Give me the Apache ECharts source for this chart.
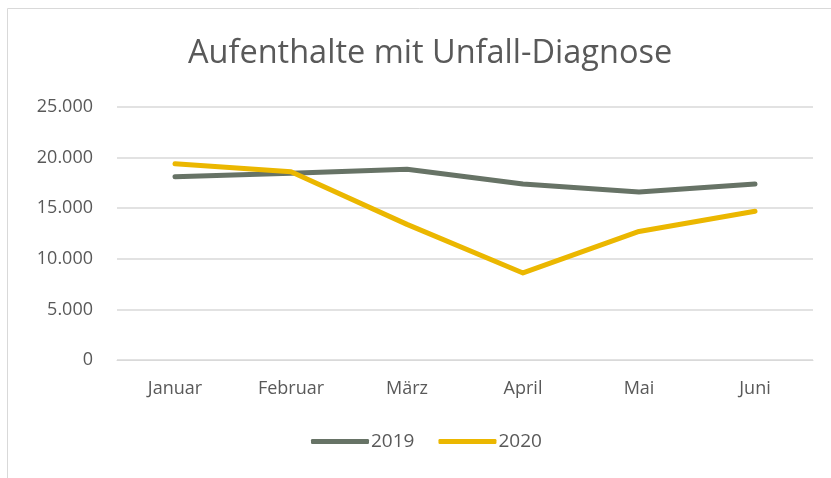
<!DOCTYPE html>
<html><head><meta charset="utf-8">
<script src="https://cdn.jsdelivr.net/npm/echarts@6/dist/echarts.min.js"></script>
<style>html,body{margin:0;padding:0;background:#fff}#c{width:831px;height:478px}</style>
</head><body><div id="c"></div>
<script>
const categories = ['Januar','Februar','März','April','Mai','Juni'];
const values2019 = [18100, 18450, 18850, 17400, 16600, 17400];
const values2020 = [19400, 18600, 13400, 8600, 12700, 14700];
const seriesNames = ['2019','2020'];
const yTicks = {min:0, max:25000, interval:5000};

const chart = echarts.init(document.getElementById('c'));
const fmt = v => v === 0 ? '0' : String(v).replace(/\B(?=(\d{3})+(?!\d))/g, '.');
const font = '"Open Sans", "Noto Sans", sans-serif';
chart.setOption({
  animation:false,
  graphic:[{type:'rect', shape:{x:7.5,y:8.5,width:900,height:470}, style:{fill:'none', stroke:'#d9d9d9', lineWidth:1}, silent:true}],
  title:{text:'Aufenthalte mit Unfall-Diagnose', left:183, top:32,
    textStyle:{fontFamily:font, fontSize:32.5, fontWeight:'normal', color:'#595959'}},
  legend:{bottom:22, left:306, itemWidth:58, itemHeight:5, itemGap:24,
    icon:'roundRect',
    textStyle:{fontFamily:font, fontSize:19, color:'#595959', padding:[0,0,0,-3]},
    data:seriesNames},
  grid:{left:117, right:18, top:107, bottom:118},
  xAxis:{type:'category', data:categories, boundaryGap:true,
    axisLine:{lineStyle:{color:'#d9d9d9'}}, axisTick:{show:false},
    axisLabel:{fontFamily:font, fontSize:18, color:'#595959', margin:20}},
  yAxis:{type:'value', min:yTicks.min, max:yTicks.max, interval:yTicks.interval,
    axisLine:{show:false}, axisTick:{show:false},
    splitLine:{lineStyle:{color:'#d9d9d9', width:1.5}},
    axisLabel:{fontFamily:font, fontSize:18, color:'#595959', margin:24, formatter:fmt}},
  series:[
    {name:seriesNames[0], type:'line', data:values2019, symbol:'none',
      lineStyle:{color:'#677366', width:5, cap:'round', join:'round'}, itemStyle:{color:'#677366'}},
    {name:seriesNames[1], type:'line', data:values2020, symbol:'none',
      lineStyle:{color:'#ebb700', width:5, cap:'round', join:'round'}, itemStyle:{color:'#ebb700'}}
  ]
});
</script></body></html>
